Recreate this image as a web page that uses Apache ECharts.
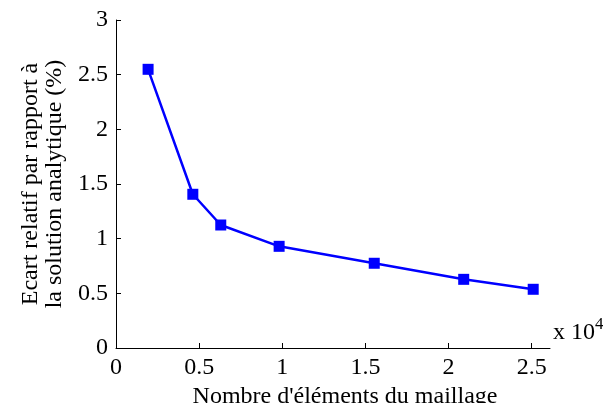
<!DOCTYPE html>
<html>
<head>
<meta charset="utf-8">
<script src="https://cdn.jsdelivr.net/npm/echarts@6/dist/echarts.min.js"></script>
<style>
  html, body { margin: 0; padding: 0; background: #fff; }
</style>
</head>
<body>
<div id="main" style="width:603px;height:403px;"></div>
<script>
// nombre d'éléments (x 10^4) et écart relatif (%)
var nbElements = [0.193, 0.462, 0.630, 0.981, 1.553, 2.091, 2.509];
var ecart = [2.549, 1.406, 1.125, 0.930, 0.775, 0.628, 0.537];
var xTicks = [0, 0.5, 1, 1.5, 2, 2.5];

var chart = echarts.init(document.getElementById("main"));
var serif = "Liberation Serif";

chart.setOption({
  animation: false,
  grid: { left: 116, top: 20, right: 53, bottom: 55, outerBoundsMode: "none", containLabel: false },
  xAxis: {
    type: "value",
    min: 0,
    max: 2.61,
    splitLine: { show: false },
    axisLine: { onZero: false, lineStyle: { color: "#000", width: 1 } },
    axisTick: { inside: true, length: 5, customValues: xTicks, lineStyle: { color: "#000" } },
    axisLabel: {
      customValues: xTicks,
      color: "#000",
      fontFamily: serif,
      fontSize: 24,
      margin: 8
    },
    name: "Nombre d'éléments du maillage",
    nameLocation: "middle",
    nameGap: 33,
    nameTextStyle: { color: "#000", fontFamily: serif, fontSize: 24, padding: [0, 0, 0, 24] }
  },
  yAxis: {
    type: "value",
    min: 0,
    max: 3,
    interval: 0.5,
    splitLine: { show: false },
    axisLine: { show: true, lineStyle: { color: "#000", width: 1 } },
    axisTick: { show: true, inside: true, length: 5, lineStyle: { color: "#000" } },
    axisLabel: {
      color: "#000",
      fontFamily: serif,
      fontSize: 24,
      margin: 8
    },
    name: "Ecart relatif par rapport à\nla solution analytique (%)",
    nameLocation: "middle",
    nameGap: 38,
    nameTextStyle: { color: "#000", fontFamily: serif, fontSize: 24, lineHeight: 24 }
  },
  graphic: [
    {
      type: "text",
      left: 553,
      top: 316,
      style: {
        text: "x 10{sup|4}",
        fill: "#000",
        font: "24px " + serif,
        rich: {
          sup: { fontSize: 17, fontFamily: serif, verticalAlign: "top", padding: [0, 0, 16, 0] }
        }
      }
    }
  ],
  series: [
    {
      type: "line",
      data: nbElements.map(function (x, i) { return [x, ecart[i]]; }),
      symbol: "rect",
      symbolSize: 11,
      lineStyle: { color: "#0000FF", width: 2.5 },
      itemStyle: { color: "#0000FF" }
    }
  ]
});
</script>
</body>
</html>
